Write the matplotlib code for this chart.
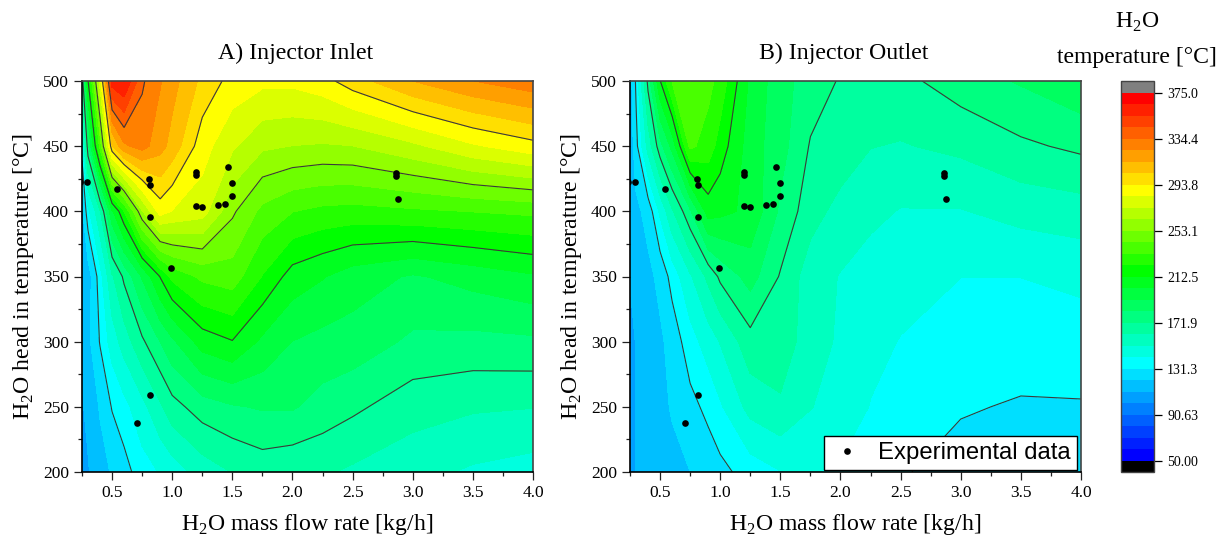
import numpy as np
import matplotlib
matplotlib.use("Agg")
import matplotlib.pyplot as plt
from matplotlib.colors import ListedColormap, BoundaryNorm

plt.rcParams["font.family"] = ["Liberation Serif", "DejaVu Serif"]
plt.rcParams["mathtext.fontset"] = "custom"
plt.rcParams["mathtext.rm"] = "Liberation Serif"

# grid of the two contour maps
flow = [0.25, 0.3, 0.4, 0.5, 0.6, 0.75, 0.9, 1.0, 1.25, 1.5, 1.75, 2.0, 2.25, 2.5, 3.0, 3.5, 4.0]
head = [200, 250, 300, 350, 400, 450, 500]

# injector inlet temperature, one list per head temperature
inlet_200 = [108, 110, 117, 122, 127, 137, 142, 146, 156, 162, 166, 164, 163, 160, 155, 150, 147]
inlet_250 = [110, 113, 122, 132, 138, 148, 160, 168, 177, 181, 183, 183, 178, 174, 166, 163, 162]
inlet_300 = [112, 118, 132, 146, 156, 170, 182, 190, 207, 212, 200, 192, 189, 188, 180, 179, 180]
inlet_350 = [112, 115, 137, 160, 174, 193, 213, 225, 235, 238, 222, 208, 203, 197, 191, 196, 201]
inlet_400 = [118, 138, 160, 200, 222, 262, 288, 283, 278, 255, 240, 233, 230, 229, 231, 233, 235]
inlet_450 = [135, 178, 235, 302, 322, 328, 318, 310, 288, 275, 265, 263, 262, 263, 271, 282, 290]
inlet_500 = [165, 212, 277, 360, 365, 336, 325, 318, 301, 290, 286, 286, 290, 299, 314, 324, 331]

# injector outlet temperature
outlet_200 = [100, 111, 113, 116, 118, 121, 125, 128, 136, 141, 142, 140, 136, 132, 128, 127, 127]
outlet_250 = [104, 111.5, 115, 118, 122, 128, 134, 140, 155, 160, 152, 147, 141, 136, 132, 130.5, 130.6]
outlet_300 = [106, 111.5, 114, 119, 125, 137, 146, 152, 168, 168, 156, 150, 144, 141, 136, 135, 136]
outlet_350 = [111.5, 113, 118, 124, 135, 150, 164, 174, 186, 171, 156, 151, 147, 145, 141.5, 141.5, 144]
outlet_400 = [113, 118, 125, 143, 160, 180, 207, 205, 200, 180, 166, 158, 154, 151, 151, 155, 157]
outlet_450 = [112, 128, 155, 178, 195, 235, 228, 218, 197, 186, 171, 168, 162, 161, 164, 170, 174]
outlet_500 = [115, 133, 175, 212, 233, 243, 236, 229, 200, 186, 177, 171, 169, 169, 177, 183, 190]

# experimental points, same in both panels
exp_flow = [0.235, 0.294, 0.538, 0.807, 0.815, 0.815, 0.987, 1.197, 1.197, 1.197, 1.247, 1.378,
            1.437, 1.5, 1.5, 1.466, 2.86, 2.86, 2.88, 0.815, 0.705]
exp_head = [422.5, 422.5, 417.3, 424.5, 420, 395.9, 356.8, 430, 428, 404.3, 403, 404.8,
            405.4, 412, 422, 433.8, 429.5, 427, 409.6, 259, 237.3]

# colour scale
tick_labels = ["50.00", "90.63", "131.3", "171.9", "212.5", "253.1", "293.8", "334.4", "375.0"]
levels = np.linspace(50, 375, 33)
major = levels[::4]
idx = [0, 8, 16, 23, 31]
red = [0, 0, 0, 255, 255]
green = [0, 255, 255, 255, 0]
blue = [255, 255, 0, 0, 0]

colors = np.column_stack([np.interp(np.arange(32), idx, c) for c in (red, green, blue)]) / 255
cmap = ListedColormap(colors)
cmap.set_under("black")
cmap.set_over("#808080")
norm = BoundaryNorm(levels, 32)

W, H = 1227, 536
fig = plt.figure(figsize=(W / 100, H / 100), dpi=100)


def box(x0, x1, y0, y1):
    return [x0 / W, 1 - y1 / H, (x1 - x0) / W, (y1 - y0) / H]


ax1 = fig.add_axes(box(82, 533, 81, 472))
ax2 = fig.add_axes(box(630, 1081, 81, 472))
cax = fig.add_axes(box(1121, 1154, 81, 472))

inlet = np.array([inlet_200, inlet_250, inlet_300, inlet_350, inlet_400, inlet_450, inlet_500])
outlet = np.array([outlet_200, outlet_250, outlet_300, outlet_350, outlet_400, outlet_450, outlet_500])

for ax, z, title, tx in [(ax1, inlet, "A) Injector Inlet", 0.473), (ax2, outlet, "B) Injector Outlet", 0.4745)]:
    cf = ax.contourf(flow, head, z, levels=levels, cmap=cmap, norm=norm, extend="both")
    cf.set_edgecolor("face")
    cf.set_linewidth(0.3)
    ax.contour(flow, head, z, levels=major, colors="#3a3a3a", linewidths=0.8)
    ax.plot(exp_flow, exp_head, "o", color="black", ms=4.8, mew=0, label="Experimental data")
    ax.set_xlim(0.25, 4.0)
    ax.set_ylim(200, 500)
    ax.set_xticks(np.arange(0.5, 4.01, 0.5))
    ax.set_xticks(np.arange(0.25, 4.01, 0.5), minor=True)
    ax.set_yticks(np.arange(200, 501, 50))
    ax.set_yticks(np.arange(225, 500, 50), minor=True)
    ax.tick_params(which="major", length=5.5, width=0.9, labelsize=12.5, pad=4, color="#222222")
    ax.tick_params(which="minor", length=3, width=0.9, color="#222222")
    ax.spines[["left", "bottom", "top", "right"]].set_linewidth(1.2)
    ax.spines[["top", "right"]].set_color("#444444")
    ax.set_xlabel("H$_2$O mass flow rate [kg/h]", fontsize=17.1, labelpad=8)
    ax.set_ylabel("H$_2$O head in temperature [°C]", fontsize=17.2, labelpad=5)
    ax.set_title(title, fontsize=17.2, pad=16, x=tx)

leg = ax2.legend(loc="lower right", bbox_to_anchor=(1486 / 1500, 0.004),
                 prop={"family": "Liberation Sans", "size": 17.2}, fancybox=False, framealpha=1,
                 edgecolor="black", borderpad=0.25, borderaxespad=0, handletextpad=0.6, handlelength=1.4)
leg.get_frame().set_linewidth(1.0)

cb = fig.colorbar(cf, cax=cax, extend="both", extendrect=True, extendfrac=0.03125)
cb.set_ticks(major)
cb.set_ticklabels(tick_labels)
cb.minorticks_off()
cb.ax.tick_params(length=6, width=0.9, labelsize=10, pad=3.5)
cb.outline.set_linewidth(1.0)
cb.outline.set_edgecolor("#444444")

fig.text(1137 / W, 1 - 22 / H, "H$_2$O", fontsize=17.1, ha="center", va="center")
fig.text(1137 / W, 1 - 57 / H, "temperature [°C]", fontsize=17.1, ha="center", va="center")

fig.savefig("out.png", dpi=100)
